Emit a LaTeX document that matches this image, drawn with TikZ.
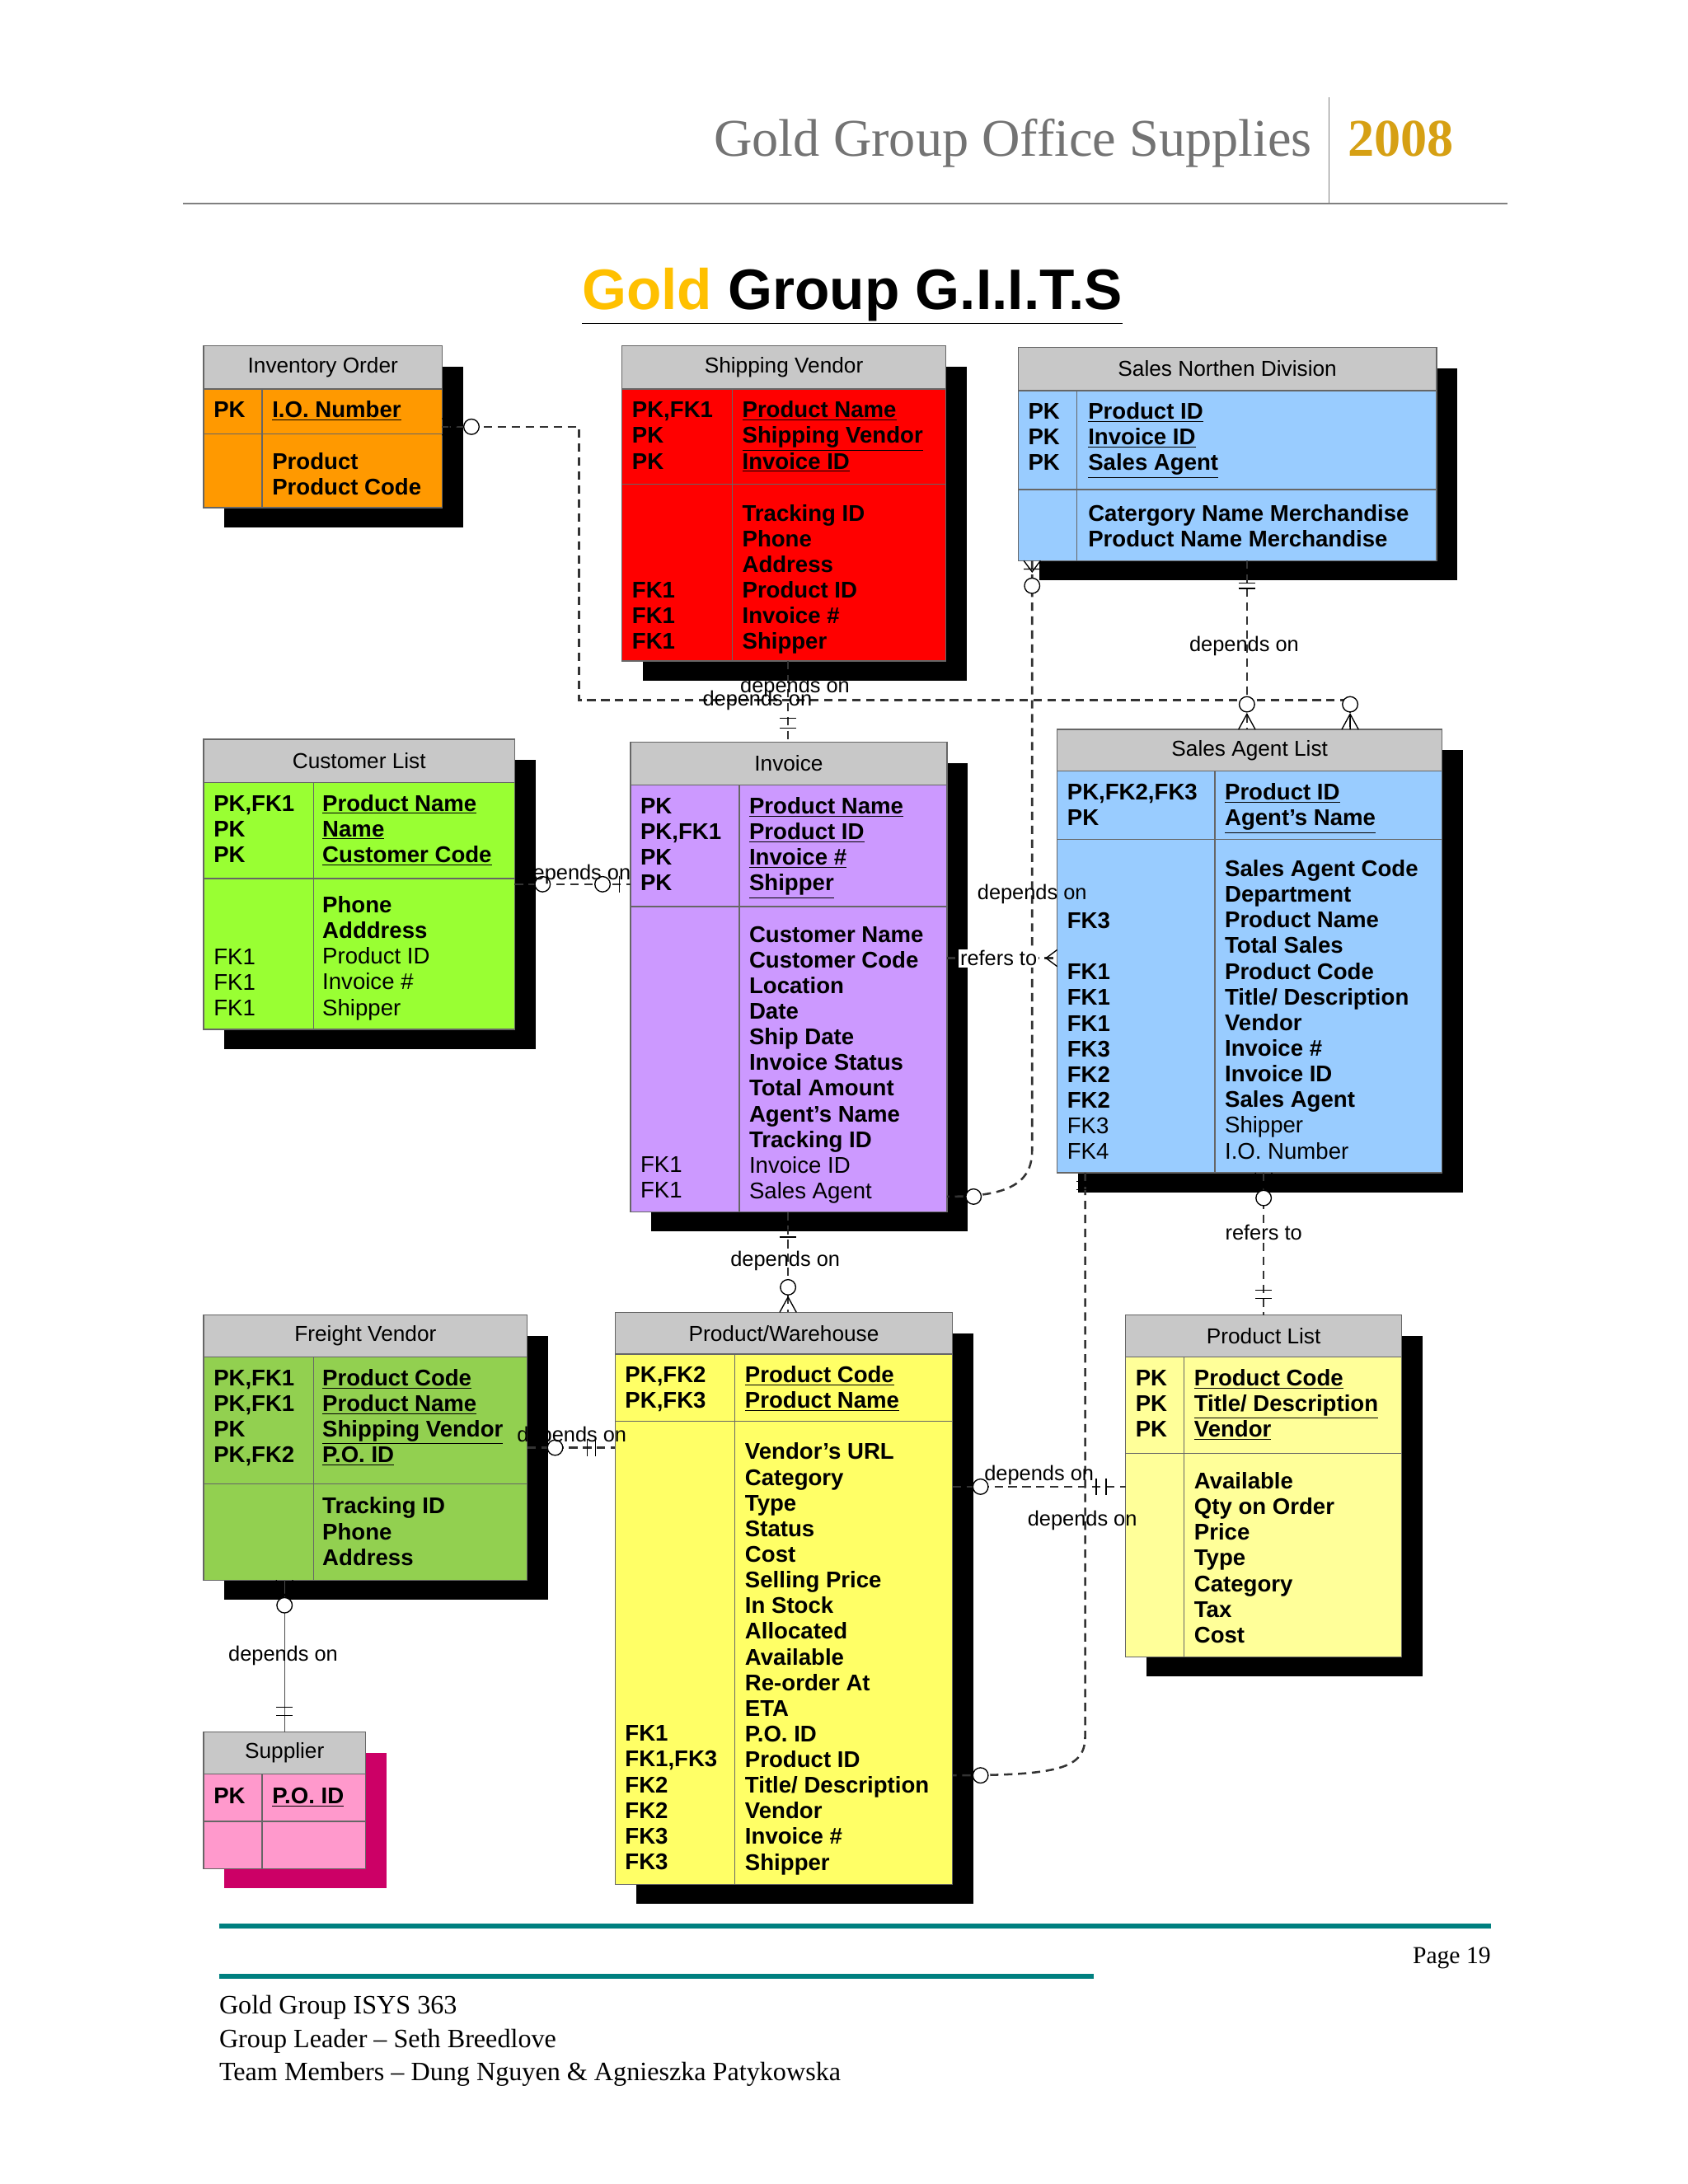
\documentclass[tikz,border=0pt]{standalone}
\usepackage{fontspec}
\setmainfont{Liberation Serif}
\setsansfont{Liberation Sans}
\definecolor{tgrey}{RGB}{200,200,200}
\definecolor{cOrange}{RGB}{255,153,0}
\definecolor{cRed}{RGB}{255,0,0}
\definecolor{cBlue}{RGB}{153,204,255}
\definecolor{cGreen}{RGB}{153,255,51}
\definecolor{cPurple}{RGB}{204,153,255}
\definecolor{cGreen2}{RGB}{146,208,80}
\definecolor{cYellow}{RGB}{255,255,102}
\definecolor{cYellow2}{RGB}{255,255,153}
\definecolor{cPink}{RGB}{255,153,204}
\definecolor{cMag}{RGB}{204,0,102}
\definecolor{gold}{RGB}{255,192,0}
\definecolor{hgold}{RGB}{214,160,20}
\definecolor{teal}{RGB}{0,128,128}
\def\shcol{black}
\tikzset{
 txt/.style={anchor=base west,inner sep=0pt,font=\sffamily\fontsize{16.3}{19}\selectfont\bfseries},
 ttl/.style={inner sep=0pt,font=\sffamily\fontsize{15.5}{18}\selectfont},
 lab/.style={inner sep=0pt,font=\sffamily\fontsize{15}{18}\selectfont},
 conn/.style={dash pattern=on 6pt off 4pt,line width=1.5pt,black!80},
 endc/.style={circle,draw,thick,fill=white,inner sep=0pt,minimum size=11pt},
 bx/.style={thick,black!60}
}
\newcommand\ent[9]{%
 \fill[\shcol] (#1+15,#2+15) rectangle (#3+15,#6+14);
 \fill[tgrey] (#1,#2) rectangle (#3,#4);
 \fill[#8] (#1,#4) rectangle (#3,#6);
 \draw[bx] (#1,#2) rectangle (#3,#6);
 \draw[bx] (#1,#4) -- (#3,#4) (#1,#5) -- (#3,#5) (#7,#4) -- (#7,#6);
 \node[ttl] at ({(#1+#3)/2},{(#2+#4)/2}) {#9};
}
\newcommand\rows[3]{\foreach \t [count=\i from 0] in {#3} \node[txt] at (#1,{#2+\i*18.4+5.5}) {\t};}
\newcommand\U[1]{\underline{#1}}
\newcommand\N{\mdseries}
\begin{document}
\begin{tikzpicture}[x=1pt,y=-1pt]
\useasboundingbox (0,0) rectangle (1210,1566);
\fill[white] (0,0) rectangle (1210,1566);
% header
\node[anchor=base east,inner sep=0,text=black!55,font=\fontsize{38}{42}\selectfont] (hd) at (941,112) {Gold Group Office Supplies};
\draw[black!50,thick] (953,70) -- (953,146);
\node[anchor=base west,inner sep=0,text=hgold,font=\fontsize{38}{42}\selectfont\bfseries] (yr) at (966,112) {2008};
\draw[black!50,line width=1.5pt] (131,146) -- (1081,146);
\node[anchor=base,inner sep=0,font=\sffamily\fontsize{41}{44}\selectfont\bfseries] (title) at (611,222) {\underline{\textcolor{gold}{Gold }Group G.I.I.T.S}};
% entities
\ent{146}{248}{317}{279}{311}{364}{188}{cOrange}{Inventory Order}
\rows{153}{294}{PK}\rows{195}{294}{\U{I.O. Number}}
\rows{195}{331}{Product,Product Code}
\ent{446}{248}{678}{279}{347}{474}{525}{cRed}{Shipping Vendor}
\rows{453}{294}{{PK,FK1},PK,PK}\rows{532}{294}{\U{Product Name},\U{Shipping Vendor},\U{Invoice ID}}
\rows{532}{368}{Tracking ID,Phone,Address,Product ID,Invoice \#,Shipper}
\rows{453}{423}{FK1,FK1,FK1}
\ent{730}{249}{1030}{280}{351}{402}{772}{cBlue}{Sales Northen Division}
\rows{737}{295}{PK,PK,PK}\rows{780}{295}{\U{Product ID},\U{Invoice ID},\U{Sales Agent}}
\rows{780}{368}{Catergory Name Merchandise,Product Name Merchandise}
\ent{146}{530}{369}{561}{630}{738}{225}{cGreen}{Customer List}
\rows{153}{576}{{PK,FK1},PK,PK}\rows{231}{576}{\U{Product Name},\U{Name},\U{Customer Code}}
\rows{231}{649}{Phone,Adddress,\N Product ID,\N Invoice \#,\N Shipper}
\rows{153}{686}{\N FK1,\N FK1,\N FK1}
\ent{452}{532}{679}{563}{650}{869}{530}{cPurple}{Invoice}
\rows{459}{578}{PK,{PK,FK1},PK,PK}\rows{537}{578}{\U{Product Name},\U{Product ID},\U{Invoice \#},\U{Shipper}}
\rows{537}{670}{Customer Name,Customer Code,Location,Date,Ship Date,Invoice Status,Total Amount,Agent's Name,Tracking ID,\N Invoice ID,\N Sales Agent}
\rows{459}{835}{\N FK1,\N FK1}
\ent{758}{523}{1034}{553}{602}{841}{871}{cBlue}{Sales Agent List}
\rows{765}{568}{{PK,FK2,FK3},PK}\rows{878}{568}{\U{Product ID},\U{Agent's Name}}
\rows{878}{623}{Sales Agent Code,Department,Product Name,Total Sales,Product Code,Title/ Description,Vendor,Invoice \#,Invoice ID,Sales Agent,\N Shipper,\N I.O. Number}
\rows{765}{660}{FK3}
\rows{765}{697}{FK1,FK1,FK1,FK3,FK2,FK2,\N FK3,\N FK4}
\ent{146}{943}{378}{973}{1064}{1133}{225}{cGreen2}{Freight Vendor}
\rows{153}{988}{{PK,FK1},{PK,FK1},PK,{PK,FK2}}\rows{231}{988}{\U{Product Code},\U{Product Name},\U{Shipping Vendor},\U{P.O. ID}}
\rows{231}{1080}{Tracking ID,Phone,Address}
\ent{441}{941}{683}{971}{1019}{1351}{527}{cYellow}{Product/Warehouse}
\rows{448}{986}{{PK,FK2},{PK,FK3}}\rows{534}{986}{\U{Product Code},\U{Product Name}}
\rows{534}{1041}{Vendor's URL,Category,Type,Status,Cost,Selling Price,In Stock,Allocated,Available,Re-order At,ETA,P.O. ID,Product ID,Title/ Description,Vendor,Invoice \#,Shipper}
\rows{448}{1243}{FK1,{FK1,FK3},FK2,FK2,FK3,FK3}
\ent{807}{943}{1005}{973}{1042}{1188}{849}{cYellow2}{Product List}
\rows{814}{988}{PK,PK,PK}\rows{856}{988}{\U{Product Code},\U{Title/ Description},\U{Vendor}}
\rows{856}{1062}{Available,Qty on Order,Price,Type,Category,Tax,Cost}
\def\shcol{cMag}
\ent{146}{1242}{262}{1272}{1306}{1340}{188}{cPink}{Supplier}
\rows{153}{1288}{PK}\rows{195}{1288}{\U{P.O. ID}}
% connectors
\coordinate (io) at (317,306);
\draw[conn] (io) -- (415,306) -- (415,502) -- (968,502) -- (968,523);
\node[endc] at (338,306) {};
\draw[thick] (322,300) -- (322,312) (317,300) -- (327,306) -- (317,312);
\node[endc] at (968,505) {};
\draw[thick] (962,523) -- (968,512) -- (974,523) (968,512) -- (968,523);
\draw[conn] (894,402) -- (894,523);
\draw[thick] (888,418) -- (900,418) (888,422) -- (900,422);
\node[endc] at (894,505) {};
\draw[thick] (888,523) -- (894,512) -- (900,523);
\node[lab] at (892,463) {depends on};
\draw[conn] (565,474) -- (565,532);
\draw[thick] (559,515) -- (571,515) (559,522) -- (571,522);
\node[lab] at (570,493) {depends on};
\node[lab] at (543,502) {depends on};
\draw[conn] (369,634) -- (452,634);
\node[endc] at (389,634) {};\node[endc] at (432,634) {};
\draw[thick] (444,628) -- (444,640);
\node[lab] at (413,627) {depends on};
\draw[conn] (740,402) -- (740,825) .. controls (740,850) and (720,858) .. (679,858);
\node[endc] at (740,420) {};
\draw[thick] (734,408) -- (746,408) (734,402) -- (740,410) -- (746,402);
\node[endc] at (698,858) {};
\node[lab] at (740,641) {depends on};
\draw[conn] (679,687) -- (758,687);
\draw[thick] (758,681) -- (750,687) -- (758,693);
\node[lab,fill=white,inner sep=1pt] at (716,687) {refers to};
\draw[conn] (565,869) -- (565,941);
\draw[thick] (559,882) -- (571,882) (559,887) -- (571,887);
\node[endc] at (565,923) {};
\draw[thick] (559,941) -- (565,930) -- (571,941);
\node[lab] at (563,904) {depends on};
\draw[conn] (906,841) -- (906,943);
\node[endc] at (906,859) {};
\draw[thick] (900,841) -- (906,852) -- (912,841);
\draw[thick] (900,925) -- (912,925) (900,931) -- (912,931);
\node[lab] at (906,884) {refers to};
\draw[conn] (778,841) -- (778,1245) .. controls (778,1268) and (760,1273) .. (683,1273);
\draw[thick] (772,847) -- (784,847) (772,853) -- (784,853);
\node[endc] at (703,1273) {};
\draw[conn] (683,1066) -- (807,1066);
\node[endc] at (703,1066) {};
\draw[thick] (786,1060) -- (786,1072) (793,1060) -- (793,1072);
\node[lab] at (745,1058) {depends on};
\node[lab] at (776,1090) {depends on};
\draw[conn] (378,1038) -- (441,1038);
\node[endc] at (398,1038) {};
\draw[thick] (421,1032) -- (421,1044) (427,1032) -- (427,1044);
\node[lab] at (410,1030) {depends on};
\draw[thick,black!70] (204,1133) -- (204,1242);
\draw[thick] (198,1133) -- (204,1144) -- (210,1133);
\node[endc] at (204,1151) {};
\draw[thick] (198,1224) -- (210,1224) (198,1230) -- (210,1230);
\node[lab] at (203,1187) {depends on};
% footer
\draw[teal,line width=4pt] (157,1381) -- (1069,1381);
\node[anchor=base east,inner sep=0,font=\fontsize{17.5}{20}\selectfont] (pg) at (1069,1408) {Page 19};
\draw[teal,line width=4pt] (157,1417) -- (784,1417);
\node[anchor=base west,inner sep=0,font=\fontsize{19}{24}\selectfont] (ft) at (157,1444) {Gold Group ISYS 363};
\node[anchor=base west,inner sep=0,font=\fontsize{19}{24}\selectfont] (ft2) at (157,1468) {Group Leader -- Seth Breedlove};
\node[anchor=base west,inner sep=0,font=\fontsize{19}{24}\selectfont] (ft3) at (157,1492) {Team Members -- Dung Nguyen \& Agnieszka Patykowska};
\end{tikzpicture}
\end{document}
